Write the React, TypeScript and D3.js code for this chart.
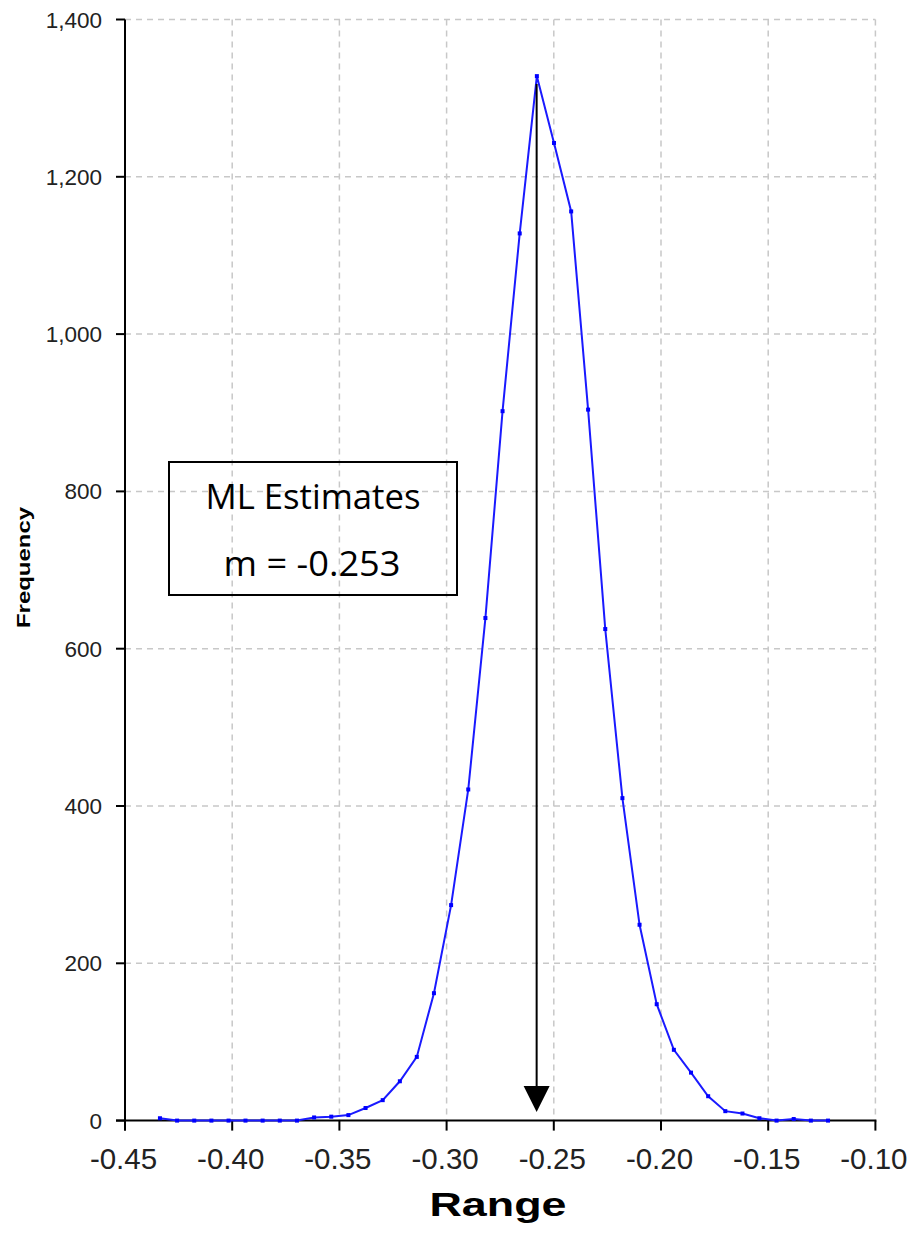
import React from "react";
import * as d3 from "d3";

const rangeValues = [
  -0.4337, -0.4257, -0.4177, -0.4097, -0.4017, -0.3938, -0.3858, -0.3778, -0.3698, -0.3618,
  -0.3538, -0.3458, -0.3378, -0.3298, -0.3218, -0.3139, -0.3059, -0.2979, -0.2899, -0.2819,
  -0.2739, -0.2659, -0.2579, -0.2499, -0.2419, -0.234, -0.226, -0.218, -0.21, -0.202,
  -0.194, -0.186, -0.178, -0.17, -0.162, -0.1541, -0.1461, -0.1381, -0.1301, -0.1221,
];
const frequencies = [
  3, 0, 0, 0, 0, 0, 0, 0, 0, 4,
  5, 7, 16, 26, 50, 81, 162, 274, 421, 639,
  902, 1128, 1328, 1243, 1156, 904, 625, 410, 249, 148,
  90, 61, 31, 12, 9, 3, 0, 2, 0, 0,
];
const xTicks = [-0.45, -0.4, -0.35, -0.3, -0.25, -0.2, -0.15, -0.1];
const yTicks = [0, 200, 400, 600, 800, 1000, 1200, 1400];
const arrowX = -0.258;
const arrowTop = 1318;
const arrowTip = 11;
const boxLines = ["ML Estimates", "m = -0.253"];

export default function App() {
  const W = 912, H = 1235;
  const left = 125, right = 875.4, top = 19.5, bottom = 1120.6;
  const x = d3.scaleLinear().domain([-0.45, -0.1]).range([left, right]);
  const y = d3.scaleLinear().domain([0, 1400]).range([bottom, top]);
  const pts = rangeValues.map((v, i) => [v, frequencies[i]] as [number, number]);
  const line = d3.line<[number, number]>().x(d => x(d[0])).y(d => y(d[1]));
  const grid = "#c8c8c8";
  const tickFont = "'Liberation Sans', Arial, sans-serif";
  const ax = x(arrowX);
  const tipY = y(arrowTip);
  return (
    <svg width={W} height={H} style={{ position: "absolute", left: 0, top: 0, background: "#fff" }}>
      <rect x={0} y={0} width={W} height={H} fill="#fff" />
      {/* grid */}
      {xTicks.slice(1).map(t => (
        <line key={"gx" + t} x1={x(t)} x2={x(t)} y1={top} y2={bottom} stroke={grid} strokeWidth={1.5} strokeDasharray="6,5" />
      ))}
      {yTicks.slice(1).map(t => (
        <line key={"gy" + t} x1={left} x2={right} y1={y(t)} y2={y(t)} stroke={grid} strokeWidth={1.5} strokeDasharray="6,5" />
      ))}
      {/* axes */}
      <line x1={left} x2={left} y1={top} y2={bottom + 10} stroke="#000" strokeWidth={2} />
      <line x1={left - 9} x2={right + 1} y1={bottom} y2={bottom} stroke="#000" strokeWidth={2} />
      {xTicks.map(t => (
        <g key={"xt" + t}>
          <line x1={x(t)} x2={x(t)} y1={bottom} y2={bottom + 10} stroke="#000" strokeWidth={2} />
          <text x={x(t) - 1.5} y={1169} textAnchor="middle" fontFamily={tickFont} fontSize={29.5} fill="#222">
            {d3.format(".2f")(t).replace("−", "-")}
          </text>
        </g>
      ))}
      {yTicks.map(t => (
        <g key={"yt" + t}>
          <line x1={left - 9} x2={left} y1={y(t)} y2={y(t)} stroke="#000" strokeWidth={2} />
          <text x={102} y={y(t) + 8} textAnchor="end" fontFamily={tickFont} fontSize={22.5} fill="#222">
            {d3.format(",")(t)}
          </text>
        </g>
      ))}
      {/* axis titles */}
      <text x={498} y={1216} textAnchor="middle" fontFamily="'Liberation Sans', Arial, sans-serif" fontWeight="bold" fontSize={33} textLength={137} lengthAdjust="spacingAndGlyphs" fill="#000">
        Range
      </text>
      <text transform={`translate(30,567.5) rotate(-90)`} textAnchor="middle" fontFamily="'Liberation Sans', Arial, sans-serif" fontWeight="bold" fontSize={19} textLength={121} lengthAdjust="spacingAndGlyphs" fill="#000">
        Frequency
      </text>
      {/* series */}
      <path d={line(pts) || ""} fill="none" stroke="#1a1aff" strokeWidth={2} />
      {pts.map((p, i) => (
        <rect key={"m" + i} x={x(p[0]) - 2} y={y(p[1]) - 2} width={4} height={4} fill="#0000ff" />
      ))}
      {/* arrow */}
      <line x1={ax} x2={ax} y1={y(arrowTop)} y2={tipY - 20} stroke="#000" strokeWidth={2} />
      <path d={`M${ax - 13},${tipY - 26} L${ax + 13},${tipY - 26} L${ax},${tipY} Z`} fill="#000" />
      {/* annotation box */}
      <rect x={169} y={462} width={288} height={133} fill="none" stroke="#000" strokeWidth={2} />
      <text x={313} y={509} textAnchor="middle" fontFamily="'Open Sans', sans-serif" fontSize={34} textLength={215} lengthAdjust="spacingAndGlyphs" fill="#000">
        {boxLines[0]}
      </text>
      <text x={312} y={576} textAnchor="middle" fontFamily="'Open Sans', sans-serif" fontSize={34} textLength={177} lengthAdjust="spacingAndGlyphs" fill="#000">
        {boxLines[1]}
      </text>
    </svg>
  );
}
